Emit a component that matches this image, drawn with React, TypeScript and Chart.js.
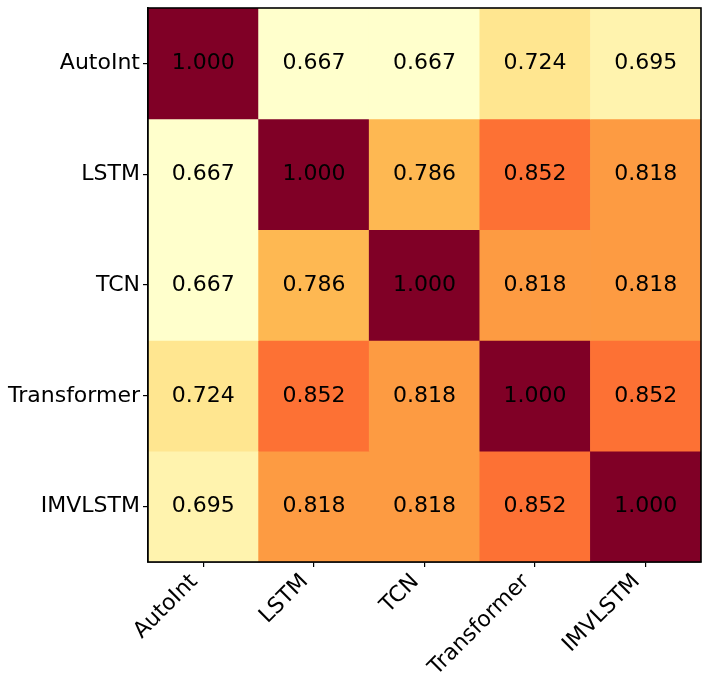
import React, { useEffect, useRef } from "react";
import { Chart, registerables } from "chart.js";

Chart.register(...registerables);

const models = ["AutoInt", "LSTM", "TCN", "Transformer", "IMVLSTM"];
const rowAutoInt = [1.0, 0.667, 0.667, 0.724, 0.695];
const rowLSTM = [0.667, 1.0, 0.786, 0.852, 0.818];
const rowTCN = [0.667, 0.786, 1.0, 0.818, 0.818];
const rowTransformer = [0.724, 0.852, 0.818, 1.0, 0.852];
const rowIMVLSTM = [0.695, 0.818, 0.818, 0.852, 1.0];
const matrix = [rowAutoInt, rowLSTM, rowTCN, rowTransformer, rowIMVLSTM];
const yTickPositions = [0.5, 1.5, 2.5, 3.5, 4.5];

const YLORRD = ["#ffffcc", "#ffeda0", "#fed976", "#feb24c", "#fd8d3c", "#fc4e2a", "#e31a1c", "#bd0026", "#800026"];
const FONT = "'DejaVu Sans', sans-serif";

function hexToRgb(h: string) {
  const n = parseInt(h.slice(1), 16);
  return [(n >> 16) & 255, (n >> 8) & 255, n & 255];
}

function cmap(v: number, vmin: number, vmax: number) {
  let t = (v - vmin) / (vmax - vmin);
  t = Math.max(0, Math.min(1, t));
  const pos = t * (YLORRD.length - 1);
  const i = Math.min(Math.floor(pos), YLORRD.length - 2);
  const f = pos - i;
  const a = hexToRgb(YLORRD[i]);
  const b = hexToRgb(YLORRD[i + 1]);
  const c = a.map((x, k) => Math.round(x + (b[k] - x) * f));
  return `rgb(${c[0]},${c[1]},${c[2]})`;
}

const cellLabels = {
  id: "cellLabels",
  afterDatasetsDraw(chart: any) {
    const ctx = chart.ctx;
    ctx.save();
    ctx.font = `22px ${FONT}`;
    ctx.fillStyle = "#000";
    ctx.textAlign = "center";
    ctx.textBaseline = "middle";
    chart.data.datasets.forEach((ds: any, di: number) => {
      const meta = chart.getDatasetMeta(di);
      meta.data.forEach((el: any, i: number) => {
        const v = ds.values[i];
        ctx.fillText(v.toFixed(3), el.x, (el.y + el.base) / 2);
      });
    });
    ctx.restore();
  },
};

const frame = {
  id: "frame",
  afterDraw(chart: any) {
    const { left, top, right, bottom } = chart.chartArea;
    const ctx = chart.ctx;
    ctx.save();
    ctx.strokeStyle = "#000";
    ctx.lineWidth = 1.6;
    ctx.strokeRect(left, top, right - left, bottom - top);
    ctx.restore();
  },
};

export default function App() {
  const ref = useRef<HTMLCanvasElement>(null);
  useEffect(() => {
    document.body.style.margin = "0";
    const all = matrix.flat();
    const vmin = Math.min(...all);
    const vmax = Math.max(...all);
    const chart = new Chart(ref.current!, {
      type: "bar",
      data: {
        labels: models,
        datasets: matrix.map((row, r) => ({
          label: models[r],
          data: row.map(() => 1),
          values: row,
          backgroundColor: row.map((v) => cmap(v, vmin, vmax)),
          borderWidth: 0,
          barPercentage: 1,
          categoryPercentage: 1,
        })) as any,
      },
      options: {
        animation: false,
        responsive: false,
        maintainAspectRatio: false,
        layout: { padding: { top: 8, right: 10, left: 0, bottom: 0 } },
        plugins: { legend: { display: false }, tooltip: { enabled: false } },
        scales: {
          x: {
            stacked: true,
            grid: { drawOnChartArea: false, offset: false, tickLength: 5, color: "#000", lineWidth: 1.2 },
            border: { display: true, color: "#000", width: 1.6 },
            ticks: {
              color: "#000",
              font: { family: FONT, size: 22 },
              maxRotation: 45,
              minRotation: 45,
              padding: 2,
              labelOffset: -9,
            },
            afterFit: (s: any) => {
              s.height = 687 - 562;
              s.paddingLeft = 0;
              s.paddingRight = 0;
            },
          },
          y: {
            type: "linear",
            stacked: true,
            reverse: true,
            min: 0,
            max: 5,
            afterBuildTicks: (axis: any) => {
              axis.ticks = yTickPositions.map((v) => ({ value: v }));
            },
            grid: { drawOnChartArea: false, tickLength: 5, color: "#000", lineWidth: 1.2 },
            border: { display: true, color: "#000", width: 1.6 },
            ticks: {
              color: "#000",
              font: { family: FONT, size: 22 },
              padding: 3,
              autoSkip: false,
              callback: (v: any) => models[Math.floor(Number(v))],
            },
            afterFit: (s: any) => {
              s.width = 148;
              s.paddingTop = 0;
              s.paddingBottom = 0;
            },
          },
        },
      },
      plugins: [cellLabels, frame],
    });
    return () => chart.destroy();
  }, []);
  return <canvas ref={ref} width={711} height={687} style={{ display: "block" }} />;
}
